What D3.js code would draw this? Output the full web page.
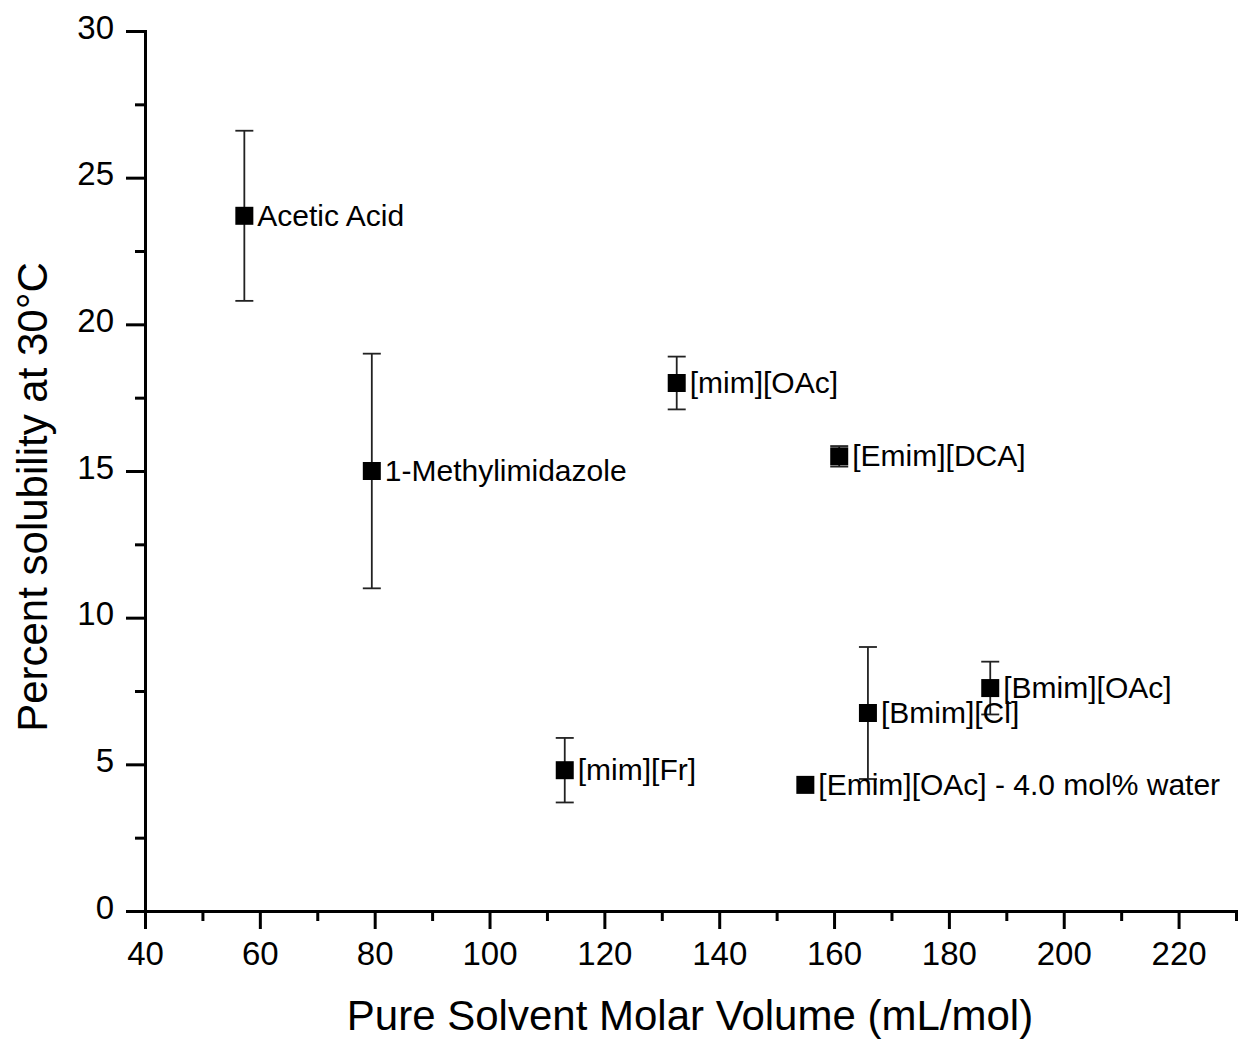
<!DOCTYPE html>
<html>
<head>
<meta charset="utf-8">
<script src="https://cdn.jsdelivr.net/npm/d3@7"></script>
<style>
  html, body { margin: 0; padding: 0; background: #fff; }
  svg { display: block; font-family: "Liberation Sans", Arial, Helvetica, sans-serif; }
</style>
</head>
<body>
<svg id="chart" width="1243" height="1040"></svg>
<script>
// Solvents and their measured solubility (mean ± error)
const solvents = ["Acetic Acid", "1-Methylimidazole", "[mim][OAc]", "[Emim][DCA]",
                  "[mim][Fr]", "[Bmim][Cl]", "[Bmim][OAc]", "[Emim][OAc] - 4.0 mol% water"];
const molarVolume = [57.3, 79.5, 132.6, 160.9, 113.1, 165.9, 187.2, 155.0];
const solubility = [23.7, 15.0, 18.0, 15.5, 4.8, 6.75, 7.6, 4.3];
const solubilityErr = [2.9, 4.0, 0.9, 0.35, 1.1, 2.25, 0.9, 0];

const xTicks = [40, 60, 80, 100, 120, 140, 160, 180, 200, 220];
const yTicks = [0, 5, 10, 15, 20, 25, 30];

const svg = d3.select("#chart");
const plotLeft = 145, plotRight = 1236, plotTop = 31, plotBottom = 911;

const x = d3.scaleLinear().domain([40, 230]).range([plotLeft, plotRight]);
const y = d3.scaleLinear().domain([0, 30]).range([plotBottom, plotTop]);

// minor ticks
const xMinor = d3.range(50, 231, 20);
const yMinor = d3.range(2.5, 30, 5);

const axisStyle = g => {
  g.select(".domain").attr("stroke", "#000").attr("stroke-width", 3);
  g.selectAll(".tick line").attr("stroke", "#000").attr("stroke-width", 3);
  g.selectAll(".tick text").attr("fill", "#000").attr("font-size", 33)
    .attr("font-family", "Liberation Sans, Arial, sans-serif");
};

svg.append("g")
  .attr("transform", `translate(0,${plotBottom})`)
  .call(d3.axisBottom(x).tickValues(xMinor).tickSize(10).tickFormat(""))
  .call(axisStyle);
svg.append("g")
  .attr("transform", `translate(0,${plotBottom})`)
  .call(d3.axisBottom(x).tickValues(xTicks).tickSize(18).tickPadding(13).tickSizeOuter(0))
  .call(axisStyle);

svg.append("g")
  .attr("transform", `translate(${plotLeft},0)`)
  .call(d3.axisLeft(y).tickValues(yMinor).tickSize(10).tickFormat(""))
  .call(axisStyle);
svg.append("g")
  .attr("transform", `translate(${plotLeft},0)`)
  .call(d3.axisLeft(y).tickValues(yTicks).tickSize(19).tickPadding(12).tickSizeOuter(0))
  .call(axisStyle)
  .call(g => g.selectAll(".tick text").attr("dy", "0.22em"));

// axis titles
svg.append("text")
  .attr("x", 690).attr("y", 1030)
  .attr("text-anchor", "middle")
  .attr("font-size", 42)
  .text("Pure Solvent Molar Volume (mL/mol)");

svg.append("text")
  .attr("transform", `translate(47,497) rotate(-90)`)
  .attr("text-anchor", "middle")
  .attr("font-size", 42)
  .text("Percent solubility at 30°C");

const data = solvents.map((name, i) => ({
  name, x: molarVolume[i], y: solubility[i], e: solubilityErr[i]
}));

// error bars
const cap = 9;
const eb = svg.append("g").attr("stroke", "#222").attr("stroke-width", 1.8);
data.filter(d => d.e > 0).forEach(d => {
  const cx = x(d.x), y1 = y(d.y + d.e), y2 = y(d.y - d.e);
  eb.append("line").attr("x1", cx).attr("x2", cx).attr("y1", y1).attr("y2", y2);
  eb.append("line").attr("x1", cx - cap).attr("x2", cx + cap).attr("y1", y1).attr("y2", y1);
  eb.append("line").attr("x1", cx - cap).attr("x2", cx + cap).attr("y1", y2).attr("y2", y2);
});

// markers
const size = 18;
svg.append("g").selectAll("rect").data(data).join("rect")
  .attr("x", d => x(d.x) - size / 2)
  .attr("y", d => y(d.y) - size / 2)
  .attr("width", size).attr("height", size)
  .attr("fill", "#000");

// point labels
svg.append("g").selectAll("text").data(data).join("text")
  .attr("x", d => x(d.x) + size / 2 + 4)
  .attr("y", d => y(d.y) + 10)
  .attr("font-size", 30)
  .attr("fill", "#000")
  .text(d => d.name);
</script>
</body>
</html>
